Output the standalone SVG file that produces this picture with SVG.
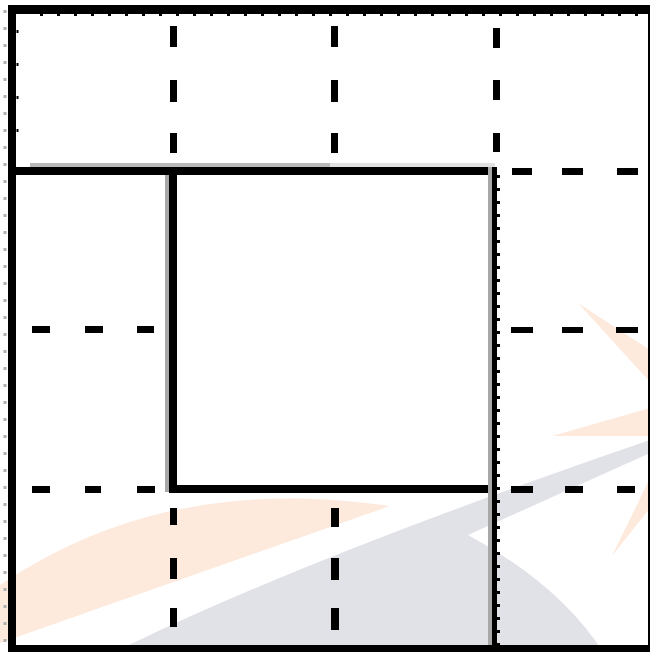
<svg xmlns="http://www.w3.org/2000/svg" width="650" height="652" viewBox="0 0 650 652">
<style>
.bg{fill:#ffffff}
.or{fill:#fdeadd}
.gr{fill:#e1e1e8}
.ln{fill:#000000}
.hz{fill:#a8a8a8}
.tick{stroke:#000;fill:none}
.gtick{stroke:#b0b0b0;fill:none}
</style>
<rect class="bg" x="0" y="0" width="650" height="652"/>
<g id="watermark">
<path class="or" d="M0,585 C90,525 210,480 390,506 L0,643 Z"/>
<path class="gr" d="M115,652 Q300,560 650,440 L650,453 L468,535 Q560,585 603,652 Z"/>
<path class="or" d="M578,303 L650,350 L650,382 Z"/>
<path class="or" d="M552,436 L650,408 L650,436 Z"/>
<path class="or" d="M612,556 L650,478 L650,508 Z"/>
</g>
<g id="frame">
<rect class="ln" x="8" y="5" width="642" height="9"/>
<rect class="ln" x="8" y="5" width="8" height="647"/>
<rect class="ln" x="8" y="645" width="642" height="7"/>
<rect class="ln" x="648" y="14" width="2" height="631"/>
<line class="tick" x1="40" y1="15" x2="648" y2="15" stroke-width="2" stroke-dasharray="3 14"/>
<line class="gtick" x1="5" y1="10" x2="5" y2="645" stroke-width="3" stroke-dasharray="3 14"/>
<line class="tick" x1="17.5" y1="30" x2="17.5" y2="160" stroke-width="2" stroke-dasharray="3 30"/>
</g>
<g id="solid-lines">
<rect class="hz" x="30" y="163" width="300" height="4" opacity="0.8"/>
<rect class="hz" x="330" y="163" width="165" height="4" opacity="0.35"/>
<rect class="ln" x="16" y="167" width="481" height="8"/>
<rect class="hz" x="165" y="175" width="4" height="317"/>
<rect class="ln" x="169" y="167" width="8" height="325"/>
<rect class="ln" x="169" y="485" width="328" height="8"/>
<rect class="hz" x="488" y="167" width="4" height="478"/>
<rect class="ln" x="492" y="167" width="5" height="478"/>
<line class="tick" x1="498.5" y1="175" x2="498.5" y2="645" stroke-width="3" stroke-dasharray="3 10"/>
</g>
<g id="dashes">
<rect class="ln" x="170" y="26" width="7" height="21"/>
<rect class="ln" x="170" y="80" width="7" height="22"/>
<rect class="ln" x="170" y="133" width="7" height="20"/>
<rect class="ln" x="331" y="26" width="7" height="21"/>
<rect class="ln" x="331" y="80" width="7" height="22"/>
<rect class="ln" x="331" y="133" width="7" height="20"/>
<rect class="ln" x="493" y="28" width="7" height="20"/>
<rect class="ln" x="493" y="80" width="7" height="20"/>
<rect class="ln" x="493" y="133" width="7" height="19"/>
<rect class="ln" x="170" y="508" width="7" height="17"/>
<rect class="ln" x="170" y="558" width="7" height="21"/>
<rect class="ln" x="170" y="608" width="7" height="19"/>
<rect class="ln" x="331" y="508" width="8" height="19"/>
<rect class="ln" x="331" y="558" width="8" height="22"/>
<rect class="ln" x="331" y="608" width="8" height="22"/>
<rect class="ln" x="32" y="326" width="18" height="7"/>
<rect class="ln" x="85" y="326" width="18" height="7"/>
<rect class="ln" x="137" y="326" width="17" height="7"/>
<rect class="ln" x="32" y="486" width="18" height="7"/>
<rect class="ln" x="85" y="486" width="16" height="7"/>
<rect class="ln" x="137" y="486" width="18" height="7"/>
<rect class="ln" x="512" y="168" width="20" height="7"/>
<rect class="ln" x="562" y="168" width="21" height="7"/>
<rect class="ln" x="617" y="168" width="21" height="7"/>
<rect class="ln" x="511" y="327" width="22" height="6"/>
<rect class="ln" x="562" y="327" width="21" height="6"/>
<rect class="ln" x="616" y="327" width="22" height="6"/>
<rect class="ln" x="511" y="486" width="22" height="7"/>
<rect class="ln" x="565" y="486" width="18" height="7"/>
<rect class="ln" x="617" y="486" width="18" height="7"/>
</g>
</svg>
